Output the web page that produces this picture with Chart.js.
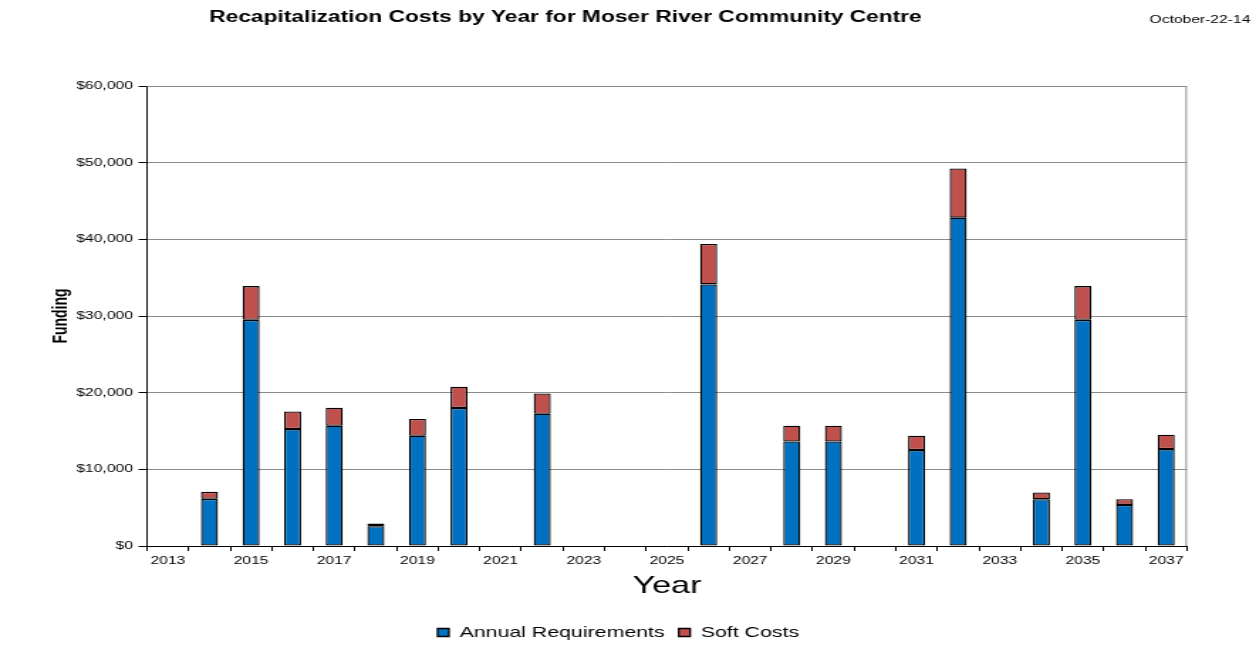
<!DOCTYPE html>
<html>
<head>
<meta charset="utf-8">
<script src="https://cdn.jsdelivr.net/npm/chart.js@4"></script>
<style>
  body { margin: 0; background: #fff; }
</style>
</head>
<body>
<!-- the reference is horizontally stretched: draw at 884 wide, show at 1256 -->
<canvas id="barras" width="884" height="656" style="display:block;width:1256px;height:656px"></canvas>
<script>
const years = ['2013','2014','2015','2016','2017','2018','2019','2020','2021','2022','2023','2024','2025',
  '2026','2027','2028','2029','2030','2031','2032','2033','2034','2035','2036','2037'];
const annualReq = [0, 6150, 29500, 15250, 15690, 2570, 14380, 18000, 0, 17250, 0, 0, 0,
  34120, 0, 13630, 13630, 0, 12510, 42830, 0, 6100, 29500, 5360, 12640];
const softCosts = [0, 910, 4400, 2300, 2350, 350, 2180, 2780, 0, 2650, 0, 0, 0,
  5270, 0, 2060, 2060, 0, 1870, 6410, 0, 870, 4400, 740, 1870];
const yTicks = [0, 10000, 20000, 30000, 40000, 50000, 60000];

const FONT = 'Liberation Sans, Arial, sans-serif';

// titulo, data e borda cinza do grafico
const extras = {
  id: 'extras',
  afterDraw(chart) {
    const c = chart.ctx, a = chart.chartArea;
    c.save();
    c.strokeStyle = '#8c8c8c';
    c.lineWidth = 1;
    c.beginPath();
    c.moveTo(a.left, a.top + 0.5);
    c.lineTo(a.right - 0.5, a.top + 0.5);
    c.lineTo(a.right - 0.5, a.bottom);
    c.stroke();
    c.fillStyle = '#000';
    c.textBaseline = 'middle';
    c.textAlign = 'center';
    c.font = 'bold 16px ' + FONT;
    c.fillText('Recapitalization Costs by Year for Moser River Community Centre', 398, 18);
    c.textAlign = 'right';
    c.font = '11px ' + FONT;
    c.fillText('October-22-14', 880, 20);
    c.restore();
  }
};

const canvas = document.getElementById('barras');
new Chart(canvas, {
  type: 'bar',
  data: {
    labels: years,
    datasets: [{
      label: 'Annual Requirements',
      data: annualReq,
      backgroundColor: '#0070C0',
      borderColor: '#000',
      borderWidth: 1.3,
      borderSkipped: false
    }, {
      label: 'Soft Costs',
      data: softCosts,
      backgroundColor: '#C0504D',
      borderColor: '#000',
      borderWidth: 1.3,
      borderSkipped: false
    }]
  },
  options: {
    responsive: false,
    animation: false,
    devicePixelRatio: 1,
    layout: { padding: { top: 86, right: 48.6, left: 35, bottom: 6 } },
    datasets: { bar: { categoryPercentage: 0.41, barPercentage: 1 } },
    scales: {
      x: {
        stacked: true,
        border: { color: '#000', width: 1 },
        grid: { offset: true, drawOnChartArea: false, tickLength: 5, tickColor: '#000' },
        ticks: {
          autoSkip: false, maxRotation: 0, color: '#000', padding: 3,
          font: { family: FONT, size: 11 },
          callback: (v, i) => (i % 2 === 0 ? years[i] : '')
        },
        title: { display: true, text: 'Year', color: '#000', font: { family: FONT, size: 24, lineHeight: 1 }, padding: { top: 0, bottom: 17 } },
        afterFit(s) { s.height = 69; }
      },
      y: {
        stacked: true,
        min: 0, max: 60000,
        border: { color: '#000', width: 1 },
        grid: { color: '#8c8c8c', tickLength: 6, tickColor: '#000' },
        afterBuildTicks(s) { s.ticks = yTicks.map(v => ({ value: v })); },
        ticks: {
          color: '#000', padding: 4,
          font: { family: FONT, size: 11 },
          callback: v => '$' + v.toLocaleString('en-US')
        },
        title: { display: true, text: 'Funding', color: '#000', font: { family: FONT, size: 14, weight: 'bold' }, padding: { top: 0, bottom: 6 } },
        afterFit(s) { s.width = 68.5; }
      }
    },
    plugins: {
      legend: {
        position: 'bottom',
        labels: {
          color: '#000', boxWidth: 8, boxHeight: 8, padding: 10,
          font: { family: FONT, size: 15 }
        }
      },
      tooltip: { enabled: false }
    }
  },
  plugins: [extras]
});
canvas.style.width = '1256px';
canvas.style.height = '656px';
</script>
</body>
</html>
